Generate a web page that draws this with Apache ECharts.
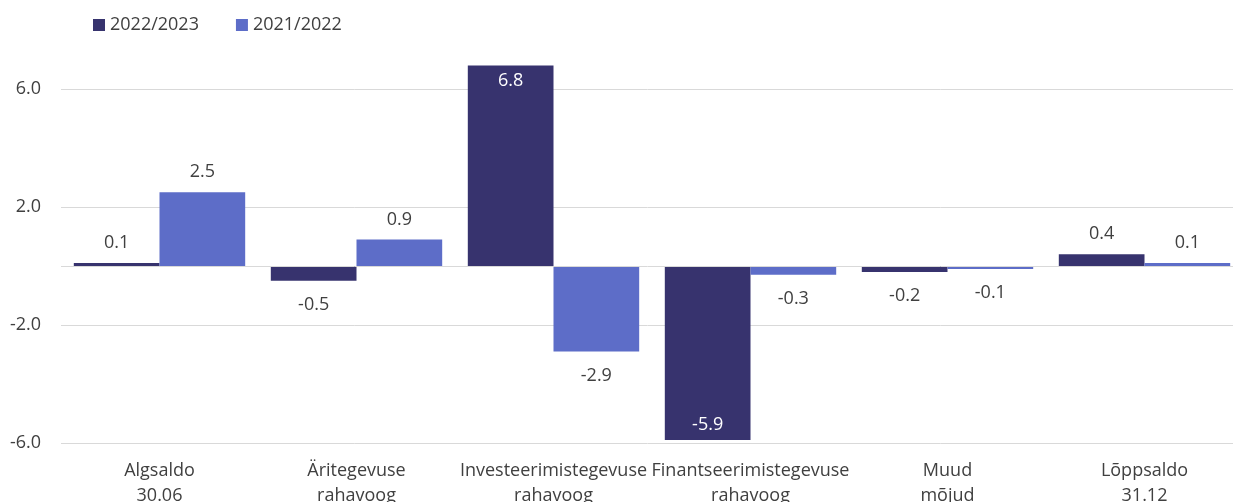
<!DOCTYPE html>
<html>
<head>
<meta charset="utf-8">
<script src="https://cdn.jsdelivr.net/npm/echarts@6/dist/echarts.min.js"></script>
<style>
  html, body { margin: 0; padding: 0; background: #fff; }
  #chart { width: 1233px; height: 502px; }
</style>
</head>
<body>
<div id="chart"></div>
<script>
var categories = ['Algsaldo\n30.06', 'Äritegevuse\nrahavoog', 'Investeerimistegevuse\nrahavoog',
    'Finantseerimistegevuse\nrahavoog', 'Muud\nmõjud', 'Lõppsaldo\n31.12'];
var seriesNames = ['2022/2023', '2021/2022'];
var values2023 = [0.1, -0.5, 6.8, -5.9, -0.2, 0.4];
var values2022 = [2.5, 0.9, -2.9, -0.3, -0.1, 0.1];

var fontName = '"Open Sans", "Noto Sans", sans-serif';
var fs = 18;

// labels outside the bar end, inside when the bar is long
function withLabels(arr) {
    return arr.map(function (v) {
        var lab;
        if (v > 5) {
            lab = {position: 'insideTop', color: '#fff', distance: 6};
        } else if (v < -5) {
            lab = {position: 'insideBottom', color: '#fff', distance: 6};
        } else if (v < 0) {
            lab = {position: 'bottom', distance: 15};
        } else {
            lab = {position: 'top', distance: 11};
        }
        return {value: v, label: lab};
    });
}

var myChart = echarts.init(document.getElementById('chart'));
var option = {
    animation: false,
    textStyle: {fontFamily: fontName},
    legend: {
        left: 88,
        top: 11,
        itemWidth: 12,
        itemHeight: 12,
        itemGap: 37,
        icon: 'rect',
        textStyle: {fontSize: fs, color: '#404040', fontFamily: fontName},
        data: seriesNames
    },
    grid: {
        left: 61,
        top: -29,
        width: 1182,
        height: 472,
        containLabel: false,
        outerBoundsMode: 'none'
    },
    xAxis: {
        type: 'category',
        data: categories,
        axisLine: {onZero: false, show: false},
        axisTick: {show: false},
        axisLabel: {
            fontSize: fs,
            color: '#404040',
            lineHeight: 25,
            margin: 15,
            interval: 0,
            fontFamily: fontName
        }
    },
    yAxis: {
        type: 'value',
        min: -6,
        max: 10,
        interval: 4,
        axisLine: {show: false},
        axisTick: {show: false},
        axisLabel: {
            fontSize: fs,
            color: '#404040',
            margin: 20,
            fontFamily: fontName,
            formatter: function (v) { return v.toFixed(1); }
        },
        splitLine: {lineStyle: {color: '#d9d9d9', width: 1}}
    },
    series: [
        {
            name: seriesNames[0],
            type: 'bar',
            barGap: '0%',
            barCategoryGap: '13%',
            data: withLabels(values2023),
            itemStyle: {color: '#37336e'},
            label: {show: true, fontSize: fs, color: '#404040', fontFamily: fontName,
                formatter: function (p) { return p.value.toFixed(1); }},
            markLine: {
                silent: true,
                symbol: 'none',
                label: {show: false},
                lineStyle: {color: '#d9d9d9', type: 'solid', width: 1},
                data: [{yAxis: 0}]
            }
        },
        {
            name: seriesNames[1],
            type: 'bar',
            barGap: '0%',
            barCategoryGap: '13%',
            data: withLabels(values2022),
            itemStyle: {color: '#5d6dc8'},
            label: {show: true, fontSize: fs, color: '#404040', fontFamily: fontName,
                formatter: function (p) { return p.value.toFixed(1); }}
        }
    ]
};
myChart.setOption(option);
</script>
</body>
</html>
